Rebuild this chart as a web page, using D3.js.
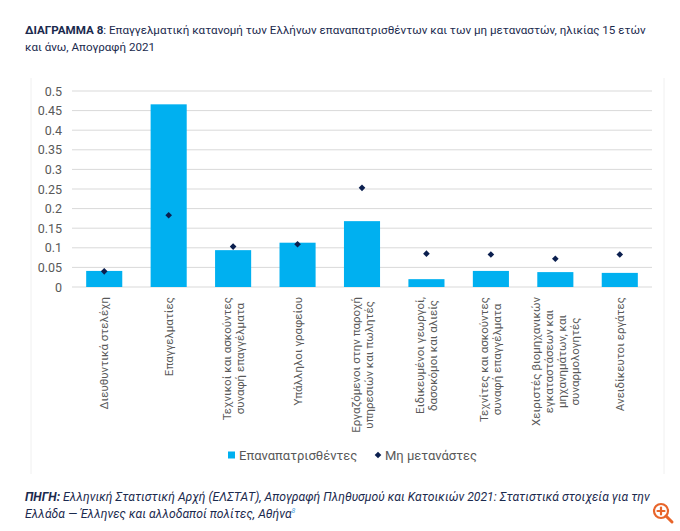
<!DOCTYPE html>
<html>
<head>
<meta charset="utf-8">
<script src="https://cdn.jsdelivr.net/npm/d3@7"></script>
<style>
  body { margin: 0; background: #fff; }
  svg text { font-family: Roboto, "Liberation Sans", sans-serif; }
</style>
</head>
<body>
<div id="chart"></div>
<script>
const categories = [
  ["Διευθυντικά στελέχη"],
  ["Επαγγελματίες"],
  ["Τεχνικοί και ασκούντες", "συναφή επαγγέλματα"],
  ["Υπάλληλοι γραφείου"],
  ["Εργαζόμενοι στην παροχή", "υπηρεσιών και πωλητές"],
  ["Ειδικευμένοι γεωργοί,", "δασοκόμοι και αλιείς"],
  ["Τεχνίτες και ασκούντες", "συναφή επαγγέλματα"],
  ["Χειριστές βιομηχανικών", "εγκαταστάσεων και", "μηχανημάτων, και", "συναρμολογητές"],
  ["Ανειδίκευτοι εργάτες"]
];
const returnees = [0.041, 0.466, 0.094, 0.113, 0.168, 0.020, 0.041, 0.038, 0.036];
const nonMigrants = [0.040, 0.183, 0.103, 0.109, 0.253, 0.085, 0.083, 0.072, 0.083];
const yTicks = [0, 0.05, 0.1, 0.15, 0.2, 0.25, 0.3, 0.35, 0.4, 0.45, 0.5];
const seriesNames = ["Επαναπατρισθέντες", "Μη μετανάστες"];

const width = 680, height = 531;
const margin = { left: 72, right: 28, top: 91, bottom: 244 };
const navy = "#1b2a4e";
const barColor = "#00b0f0";
const dotColor = "#0b1f4f";
const gray = "#595959";

const svg = d3.select("#chart").append("svg")
  .attr("width", width).attr("height", height);

// title
const title = svg.append("text").attr("x", 25).attr("y", 34)
  .attr("font-size", 11.6).attr("fill", navy);
title.append("tspan").attr("font-weight", "bold").text("ΔΙΑΓΡΑΜΜΑ 8");
title.append("tspan").text(": Επαγγελματική κατανομή των Ελλήνων επαναπατρισθέντων και των μη μεταναστών, ηλικίας 15 ετών");
svg.append("text").attr("x", 25).attr("y", 51)
  .attr("font-size", 11.6).attr("fill", navy)
  .text("και άνω, Απογραφή 2021");

// chart frame (faint)
svg.append("line").attr("x1", 31).attr("x2", 31).attr("y1", 78).attr("y2", 474)
  .attr("stroke", "#f0f0f0");
svg.append("line").attr("x1", 664).attr("x2", 664).attr("y1", 78).attr("y2", 474)
  .attr("stroke", "#f0f0f0");

const x = d3.scaleBand()
  .domain(d3.range(categories.length))
  .range([margin.left, width - margin.right])
  .paddingInner(0.44).paddingOuter(0.22);

const y = d3.scaleLinear().domain([0, 0.5]).range([287, margin.top]);

// gridlines
svg.append("g")
  .selectAll("line").data(yTicks).enter().append("line")
  .attr("x1", margin.left).attr("x2", width - margin.right)
  .attr("y1", d => y(d)).attr("y2", d => y(d))
  .attr("stroke", "#d9d9d9").attr("stroke-width", 1);

// y axis
const yAxis = d3.axisLeft(y).tickValues(yTicks).tickSize(0).tickPadding(10)
  .tickFormat(d => d === 0 ? "0" : String(+d.toFixed(2)));
const yg = svg.append("g").attr("transform", `translate(${margin.left},0)`).call(yAxis);
yg.select(".domain").remove();
yg.selectAll("text").attr("font-size", 12.5).attr("fill", gray)
  .attr("font-family", "Roboto, sans-serif");

// bars
svg.append("g").selectAll("rect").data(returnees).enter().append("rect")
  .attr("x", (d, i) => x(i))
  .attr("width", x.bandwidth())
  .attr("y", d => y(d))
  .attr("height", d => y(0) - y(d))
  .attr("fill", barColor);

// diamonds
const diamond = d3.symbol().type(d3.symbolSquare).size(22);
svg.append("g").selectAll("path").data(nonMigrants).enter().append("path")
  .attr("d", diamond)
  .attr("transform", (d, i) => `translate(${x(i) + x.bandwidth() / 2},${y(d)}) rotate(45)`)
  .attr("fill", dotColor);

// category labels (rotated)
const labelTop = 297;
const lineGap = 13;
categories.forEach((lines, i) => {
  const cx = x(i) + x.bandwidth() / 2;
  const g = svg.append("g");
  const texts = lines.map((line, j) => g.append("text")
    .attr("font-size", 11.5).attr("fill", gray)
    .attr("text-anchor", "middle")
    .text(line));
  const maxLen = d3.max(texts, t => t.node().getComputedTextLength());
  const n = lines.length;
  texts.forEach((t, j) => {
    const lx = cx + (j - (n - 1) / 2) * lineGap + 4;
    const ly = labelTop + maxLen / 2;
    t.attr("transform", `translate(${lx},${ly}) rotate(-90)`);
  });
});

// legend
const legend = svg.append("g");
legend.append("rect").attr("x", 228).attr("y", 451.5).attr("width", 7).attr("height", 7)
  .attr("fill", barColor);
legend.append("text").attr("x", 239).attr("y", 459.5)
  .attr("font-size", 13).attr("fill", gray).text(seriesNames[0]);
legend.append("path").attr("d", diamond)
  .attr("transform", "translate(378,455) rotate(45)").attr("fill", dotColor);
legend.append("text").attr("x", 385).attr("y", 459.5)
  .attr("font-size", 13).attr("fill", gray).text(seriesNames[1]);

// source
const src = svg.append("text").attr("x", 25).attr("y", 501)
  .attr("font-size", 12.2).attr("fill", navy).attr("font-style", "italic");
src.append("tspan").attr("font-weight", "bold").text("ΠΗΓΗ:");
src.append("tspan").text(" Ελληνική Στατιστική Αρχή (ΕΛΣΤΑΤ), Απογραφή Πληθυσμού και Κατοικιών 2021: Στατιστικά στοιχεία για την");
const src2 = svg.append("text").attr("x", 25).attr("y", 518)
  .attr("font-size", 12.2).attr("fill", navy).attr("font-style", "italic");
src2.append("tspan").text("Ελλάδα — Έλληνες και αλλοδαποί πολίτες, Αθήνα");
src2.append("tspan").attr("font-size", 7).attr("dy", -5).attr("fill", "#4aa3df").text("8");

// zoom icon
const icon = svg.append("g").attr("stroke", "#e8652a").attr("stroke-width", 2.2)
  .attr("fill", "none").attr("stroke-linecap", "round");
icon.append("circle").attr("cx", 661).attr("cy", 511).attr("r", 7);
icon.append("line").attr("x1", 666).attr("y1", 516).attr("x2", 672).attr("y2", 522)
  .attr("stroke-width", 3);
icon.append("line").attr("x1", 657.5).attr("x2", 664.5).attr("y1", 511).attr("y2", 511);
icon.append("line").attr("x1", 661).attr("x2", 661).attr("y1", 507.5).attr("y2", 514.5);
</script>
</body>
</html>
